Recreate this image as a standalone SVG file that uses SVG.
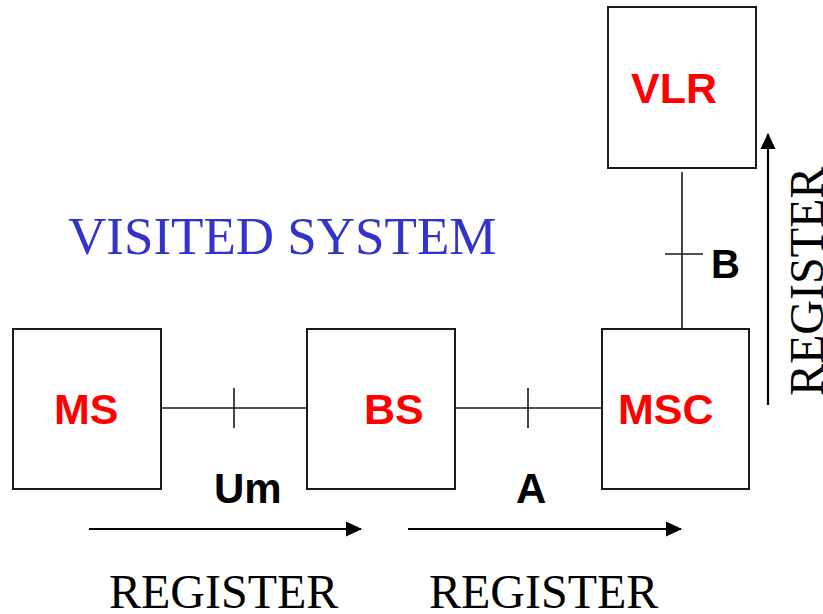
<svg xmlns="http://www.w3.org/2000/svg" width="823" height="614" viewBox="0 0 823 614">
<defs>
<style>
.box{fill:#fff;stroke:#1a1a1a;stroke-width:2}
.lbl{font-family:"Liberation Sans",Arial,sans-serif;font-weight:bold;font-size:43px;fill:#ff0000}
.ifc{font-family:"Liberation Sans",Arial,sans-serif;font-weight:bold;font-size:42px;fill:#000}
.reg{font-family:"Liberation Serif","Times New Roman",serif;font-size:48px;fill:#000}
.title{font-family:"Liberation Serif","Times New Roman",serif;font-size:53px;fill:#3333cc}
.link{stroke:#1a1a1a;stroke-width:1.6;fill:none}
.arr{stroke:#000;stroke-width:2.2;fill:none}
</style>
<marker id="ah" markerWidth="16" markerHeight="16" viewBox="0 0 16 16" refX="15" refY="8" orient="auto" markerUnits="userSpaceOnUse">
<path d="M0,0.5 L16,8 L0,15.5 Z" fill="#000"/>
</marker>
</defs>
<rect width="823" height="614" fill="#fff"/>
<text class="title" x="68" y="254">VISITED SYSTEM</text>
<g id="connectors">
<line class="link" x1="161" y1="408" x2="307" y2="408"/>
<line class="link" x1="234" y1="388" x2="234" y2="428"/>
<line class="link" x1="455" y1="408" x2="602" y2="408"/>
<line class="link" x1="528" y1="388" x2="528" y2="428"/>
<line class="link" x1="682" y1="172" x2="682" y2="332"/>
<line class="link" x1="665" y1="254" x2="703" y2="254"/>
<text class="ifc" x="214" y="503">Um</text>
<text class="ifc" x="516" y="503">A</text>
<text class="ifc" x="711" y="278" style="font-size:40px">B</text>
</g>
<g id="ms"><rect class="box" x="13" y="329" width="148" height="160"/><text class="lbl" x="54" y="424">MS</text></g>
<g id="bs"><rect class="box" x="307" y="329" width="148" height="160"/><text class="lbl" x="364" y="424">BS</text></g>
<g id="msc"><rect class="box" x="602" y="329" width="147" height="160"/><text class="lbl" x="618" y="424">MSC</text></g>
<g id="vlr"><rect class="box" x="608" y="7" width="148" height="161"/><text class="lbl" x="631" y="103">VLR</text></g>
<g id="register-arrows">
<line class="arr" x1="89" y1="529" x2="361" y2="529" marker-end="url(#ah)"/>
<line class="arr" x1="408" y1="529" x2="681" y2="529" marker-end="url(#ah)"/>
<line class="arr" x1="768" y1="405" x2="768" y2="134" marker-end="url(#ah)"/>
<text class="reg" x="109" y="608">REGISTER</text>
<text class="reg" x="429" y="608">REGISTER</text>
<text class="reg" transform="translate(823,396) rotate(-90)" x="0" y="0">REGISTER</text>
</g>
</svg>
